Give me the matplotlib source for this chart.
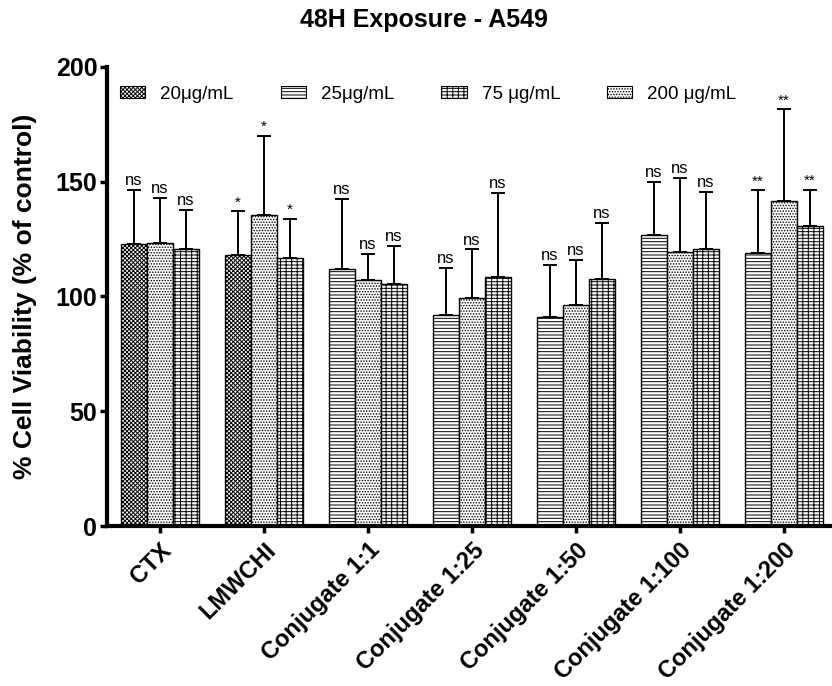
import numpy as np
import matplotlib
matplotlib.use("Agg")
import matplotlib.pyplot as plt
from matplotlib.patches import Patch

plt.rcParams['font.family'] = ['Liberation Sans', 'DejaVu Sans']
plt.rcParams['hatch.linewidth'] = 0.7

groups = ["CTX", "LMWCHI", "Conjugate 1:1", "Conjugate 1:25",
          "Conjugate 1:50", "Conjugate 1:100", "Conjugate 1:200"]

# first bar of each group is 20 ug/mL (CTX, LMWCHI) or 25 ug/mL (conjugates)
first_conc = ["20", "20", "25", "25", "25", "25", "25"]
first_mean = [122.8, 118.1, 112.0, 91.7, 90.9, 126.5, 118.9]
first_sd = [23.7, 19.0, 30.5, 20.7, 22.9, 23.5, 27.3]
first_sig = ["ns", "*", "ns", "ns", "ns", "ns", "**"]

mean_200 = [123.1, 135.6, 107.3, 99.1, 96.2, 119.2, 141.4]
sd_200 = [19.8, 34.2, 11.3, 21.3, 19.8, 32.3, 40.0]
sig_200 = ["ns", "*", "ns", "ns", "ns", "ns", "**"]

mean_75 = [120.4, 116.6, 105.5, 108.3, 107.7, 120.4, 130.5]
sd_75 = [17.4, 17.2, 16.6, 36.8, 24.3, 25.0, 15.9]
sig_75 = ["ns", "*", "ns", "ns", "ns", "ns", "**"]

legend_labels = {"20": "20\u03bcg/mL", "25": "25\u03bcg/mL",
                 "75": "75 \u03bcg/mL", "200": "200 \u03bcg/mL"}
hatches = {"20": "xxxxxxxx", "25": "-----", "75": "-----|||", "200": "......"}

fig = plt.figure(figsize=(8.32, 6.86), dpi=100)
ax = fig.add_axes([0.1286, 0.2332, 0.8714, 0.6696])

x = np.arange(len(groups))
w = 0.25

def draw(xpos, heights, sds, sigs, conc):
    xpos = np.asarray(xpos, dtype=float)
    heights = np.asarray(heights)
    sds = np.asarray(sds)
    ax.bar(xpos, heights, width=w, color="white", edgecolor="black",
           linewidth=1.0, hatch=hatches[conc], zorder=2)
    ax.errorbar(xpos, heights, yerr=[np.zeros_like(sds), sds], fmt="none",
                ecolor="black", elinewidth=1.4, capsize=5, capthick=1.4,
                zorder=3)
    for xi, h, s, t in zip(xpos, heights, sds, sigs):
        ax.text(xi, h + s + 0.8, t, ha="center", va="bottom",
                fontsize=12 if t == "ns" else 11)

first_conc = np.array(first_conc)
for conc in ["20", "25"]:
    m = first_conc == conc
    draw(x[m] - w, np.array(first_mean)[m], np.array(first_sd)[m],
         np.array(first_sig)[m], conc)
draw(x, mean_200, sd_200, sig_200, "200")
draw(x + w, mean_75, sd_75, sig_75, "75")

# legend in the order of the original figure
handles = [Patch(facecolor="white", edgecolor="black", linewidth=0.8,
                 hatch=hatches[c], label=legend_labels[c])
           for c in ["20", "25", "75", "200"]]
ax.legend(handles=handles, ncol=4, loc="center left",
          bbox_to_anchor=(0.0, 0.94), frameon=False, fontsize=13.5,
          handlelength=1.35, handleheight=0.6, handletextpad=0.8,
          columnspacing=2.5, borderaxespad=0.3)

ax.set_xlim(-0.51, 6.46)
ax.set_ylim(0, 200)
ax.set_yticks([0, 50, 100, 150, 200])
ax.set_xticks(x)
ax.set_xticklabels(groups, rotation=45, ha="right", rotation_mode="anchor",
                   fontsize=17, fontweight="bold")
for lab in ax.get_yticklabels():
    lab.set_fontweight("bold")
ax.tick_params(axis="y", labelsize=18, width=2.5, length=5, direction="out",
               pad=2)
ax.tick_params(axis="x", width=2.5, length=5, direction="out", pad=4)
ax.spines["top"].set_visible(False)
ax.spines["right"].set_visible(False)
ax.spines["left"].set_linewidth(3)
ax.spines["bottom"].set_linewidth(3)
ax.set_ylabel("% Cell Viability (% of control)", fontsize=19,
              fontweight="bold", labelpad=13)

fig.text(0.51, 0.971, "48H Exposure - A549", ha="center", va="center",
         fontsize=18, fontweight="bold")

fig.savefig("out.png", dpi=100)
